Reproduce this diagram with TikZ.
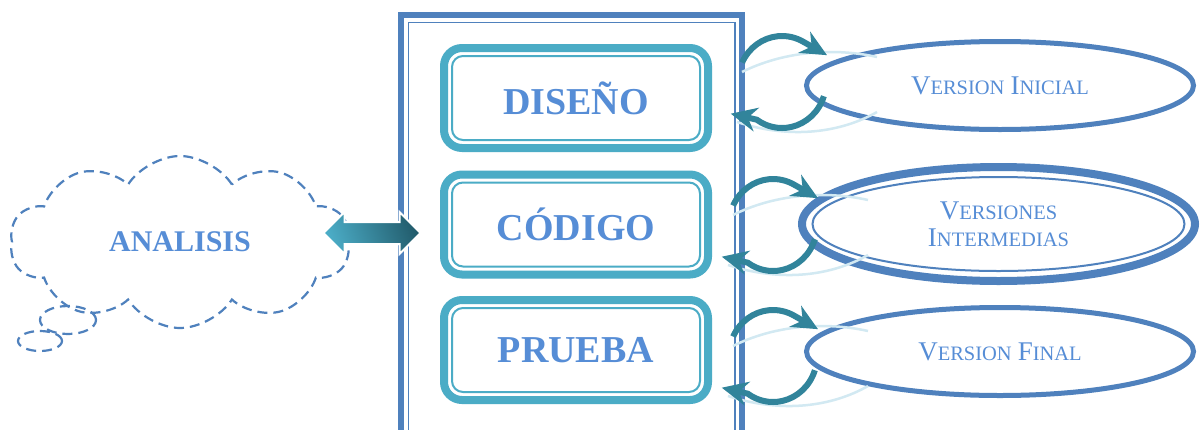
\documentclass[tikz,border=0pt]{standalone}
\usepackage{fontspec}
\setmainfont{Liberation Serif}
\usetikzlibrary{shapes.symbols,shapes.arrows,shapes.geometric,arrows.meta}
\definecolor{frameblue}{RGB}{79,129,189}
\definecolor{boxteal}{RGB}{75,172,198}
\definecolor{txtblue}{RGB}{86,141,214}
\definecolor{cyc}{RGB}{49,132,155}
\definecolor{faint}{RGB}{210,233,242}
\tikzset{
  stagebox/.style={draw=boxteal, line width=8pt, rounded corners=18pt, minimum width=264pt, minimum height=100pt, outer sep=0pt, inner sep=0pt, text=txtblue, font=\fontsize{38}{40}\selectfont\bfseries},
  stageinner/.style={draw=boxteal, line width=2pt, rounded corners=11pt},
  verell/.style={draw=frameblue, ellipse, line width=5pt, minimum width=387pt, minimum height=88pt, outer sep=0pt, inner sep=0pt, text=txtblue, align=center},
  cycarrow/.style={draw=cyc, line width=6pt, -{Stealth[length=26pt,width=24pt]}},
  faintline/.style={draw=faint, line width=2.5pt},
  cloudline/.style={draw=frameblue, line width=2.2pt, dash pattern=on 10pt off 6pt}
}
\newcommand{\smc}[2]{{\fontsize{27}{29}\selectfont #1}{\fontsize{20.5}{22}\selectfont #2}}
\begin{document}
\begin{tikzpicture}[x=1pt,y=-1pt]
\useasboundingbox (0,0) rectangle (1204,429);
\clip (0,0) rectangle (1204,429);
\fill[white] (0,0) rectangle (1204,429);

% container frame
\draw[frameblue, line width=6pt] (401,15) rectangle (742,445);
\draw[frameblue, line width=1.8pt] (408.5,22.5) rectangle (735,445);

% stage boxes
\node[stagebox] (dis) at (576,98) {DISEÑO};
\node[stagebox] (cod) at (576,224.5) {CÓDIGO};
\node[stagebox] (pru) at (576,350) {PRUEBA};
\foreach \n in {dis,cod,pru}{
  \draw[stageinner] ([shift={(8,8)}]\n.north west) rectangle ([shift={(-8,-8)}]\n.south east);
}

% cloud
\node[cloud, cloudline, cloud puffs=10, cloud puff arc=115, aspect=2.0,
      minimum width=340pt, minimum height=172pt, inner sep=0pt,
      text=txtblue, font=\fontsize{30}{32}\selectfont\bfseries] (ana) at (180,242) {ANALISIS};
\node[ellipse, cloudline, minimum width=56pt, minimum height=28pt] (b1) at (68,320) {};
\node[ellipse, cloudline, minimum width=44pt, minimum height=20pt] (b2) at (40,341) {};

% double arrow
\node[double arrow, draw=white, line width=2pt, left color=boxteal, right color=cyc!70!black,
      shading angle=110, minimum height=97pt, inner sep=10pt,
      double arrow head extend=10pt] (darr) at (372,233) {};

% ellipses
\node[verell] (vi) at (1000,85.5) {\smc{V}{ERSION}\hspace{6pt}\smc{I}{NICIAL}};
\node[verell, line width=8pt, minimum width=393pt, minimum height=114pt] (vm) at (998.5,224)
  {\smc{V}{ERSIONES}\\[8pt]\smc{I}{NTERMEDIAS}};
\node[ellipse, draw=frameblue, line width=2pt, minimum width=372pt, minimum height=94pt] (vmi) at (998.5,224) {};
\node[verell] (vf) at (1000,351.5) {\smc{V}{ERSION}\hspace{6pt}\smc{F}{INAL}};

% cycle arrows
\coordinate (c1) at (782,82);
\coordinate (c2) at (773,225);
\coordinate (c3) at (773,356);
\foreach \c in {c1,c2,c3}{
  \draw[faintline] ([shift={(-40,-10)}]\c) .. controls ([shift={(0,-30)}]\c) and ([shift={(50,-35)}]\c) .. ([shift={(95,-25)}]\c);
  \draw[faintline] ([shift={(-45,40)}]\c) .. controls ([shift={(10,58)}]\c) and ([shift={(60,50)}]\c) .. ([shift={(95,30)}]\c);
  \draw[cycarrow] ([shift={(205:44 and 46)}]\c) arc[start angle=205, end angle=300, x radius=44, y radius=46] -- ++(23,13);
  \draw[cycarrow] ([shift={(18:44 and 46)}]\c) arc[start angle=18, end angle=125, x radius=44, y radius=46] -- ++(-26,-6);
}
\end{tikzpicture}
\end{document}
